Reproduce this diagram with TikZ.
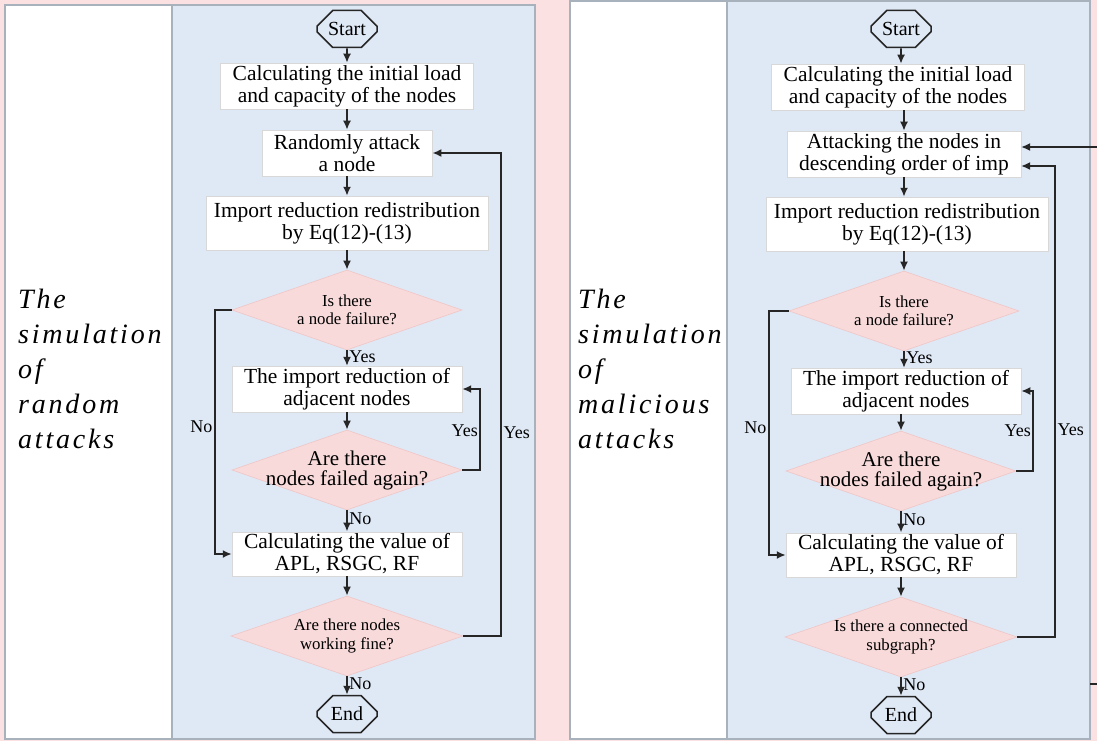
\documentclass[tikz,border=0pt]{standalone}
\usepackage{fontspec}
\setmainfont{Liberation Serif}
\newfontfamily\sidefont[LetterSpace=10]{Liberation Serif}
\usetikzlibrary{arrows.meta, backgrounds, shapes.geometric, shapes.misc}
\definecolor{pagefill}{HTML}{FCE1E2}
\definecolor{flowfill}{HTML}{DFE8F5}
\definecolor{panelborder}{HTML}{A8B2BC}
\definecolor{decfill}{HTML}{F8DADA}
\definecolor{decborder}{HTML}{F0C6C6}
\definecolor{boxborder}{HTML}{D8D8D8}
\definecolor{darkline}{HTML}{262626}
\tikzset{
  panel/.style={rectangle, fill=flowfill, draw=panelborder, line width=1.5pt, inner sep=0pt},
  sidepanel/.style={rectangle, fill=white, draw=panelborder, line width=1.5pt, inner sep=0pt},
  sidetitle/.style={font=\fontsize{28}{35}\sidefont\itshape, align=left, anchor=north west, inner sep=0pt},
  terminal/.style={chamfered rectangle, chamfered rectangle xsep=9pt, chamfered rectangle ysep=9pt, draw=darkline, line width=1.5pt, minimum width=60pt, minimum height=37pt, inner sep=0pt, font=\fontsize{20}{22}\selectfont},
  process/.style={rectangle, fill=white, draw=boxborder, line width=0.5pt, align=center, font=\fontsize{21.5}{22}\selectfont, inner xsep=12pt, inner ysep=2pt, minimum height=46pt},
  decision/.style={diamond, aspect=2.875, fill=decfill, draw=decborder, line width=0.6pt, align=center, inner sep=-8pt, minimum width=230pt, minimum height=80pt, font=\fontsize{16.8}{18.5}\selectfont},
  bigdecision/.style={decision, font=\fontsize{21}{20}\selectfont},
  flow/.style={-{Latex[length=9pt,width=8pt]}, line width=1.8pt, draw=darkline},
  branch/.style={font=\fontsize{18}{20}\selectfont, inner xsep=1.5pt, inner ysep=0pt}
}

\begin{document}
\begin{tikzpicture}[x=1pt, y=-1pt]
\useasboundingbox (0,0) rectangle (1097,741);

\begin{pgfonlayer}{background}
  \fill[pagefill] (0,0) rectangle (1097,741);
  \node[sidepanel, minimum width=167pt, minimum height=734pt] at (88.5, 372) {};
  \node[panel, minimum width=363pt, minimum height=734pt] at (353.5, 372) {};
  \node[sidepanel, minimum width=157pt, minimum height=738pt] at (648.5, 370) {};
  \node[panel, minimum width=363pt, minimum height=738pt] at (908.5, 370) {};
\end{pgfonlayer}

% random attacks
\node[sidetitle] (title1) at (18, 289) {The\\simulation\\of\\random\\attacks};

\node[terminal] (start1) at (347, 29) {Start};
\node[process] (load1) at (347, 86) {Calculating the initial load\\and capacity of the nodes};
\node[process] (attack1) at (347, 153) {Randomly attack\\a node};
\node[process, inner xsep=8pt, minimum height=54pt] (redist1) at (347, 223) {Import reduction redistribution\\by Eq(12)-(13)};
\node[decision] (fail1) at (347, 310) {Is there\\a node failure?};
\node[process, minimum height=43pt] (adjacent1) at (347, 389) {The import reduction of\\adjacent nodes};
\node[bigdecision] (again1) at (347, 470) {Are there\\nodes failed again?};
\node[process, minimum height=44pt] (value1) at (347, 554) {Calculating the value of\\APL, RSGC, RF};
\node[decision, minimum width=232pt] (working1) at (347, 636) {Are there nodes\\working fine?};
\node[terminal] (end1) at (347, 714) {End};

\draw[flow] (start1) -- (load1);
\draw[flow] (load1) -- (attack1);
\draw[flow] (attack1) -- (redist1);
\draw[flow] (redist1) -- (fail1);
\draw[flow] (fail1) -- node[branch, right, pos=0.4] {Yes} (adjacent1);
\draw[flow] (adjacent1) -- (again1);
\draw[flow] (again1) -- node[branch, right, pos=0.4] {No} (value1);
\draw[flow] (value1) -- (working1);
\draw[flow] (working1) -- node[branch, right, pos=0.4] {No} (end1);
\draw[flow] (fail1.west) -- ++(-17,0) |- node[branch, pos=0.24, left] {No} (value1.west);
\draw[flow] (again1.east) -- ++(18,0) |- node[branch, pos=0.24, left] {Yes} (adjacent1.east);
\draw[flow] (working1.east) -- ++(38,0) |- node[branch, pos=0.21, right] {Yes} (attack1.east);

% malicious attacks
\node[sidetitle] (title2) at (578, 289) {The\\simulation\\of\\malicious\\attacks};

\node[terminal] (start2) at (901, 29) {Start};
\node[process] (load2) at (898, 87) {Calculating the initial load\\and capacity of the nodes};
\node[process] (attack2) at (904, 154) {Attacking the nodes in\\descending order of imp};
\node[process, inner xsep=8pt, minimum height=54pt] (redist2) at (907, 224) {Import reduction redistribution\\by Eq(12)-(13)};
\node[decision] (fail2) at (904, 311) {Is there\\a node failure?};
\node[process, minimum height=43pt] (adjacent2) at (906, 391) {The import reduction of\\adjacent nodes};
\node[bigdecision] (again2) at (901, 471) {Are there\\nodes failed again?};
\node[process, minimum height=44pt] (value2) at (901, 555) {Calculating the value of\\APL, RSGC, RF};
\node[decision, minimum width=232pt] (connected2) at (901, 637) {Is there a connected\\subgraph?};
\node[terminal] (end2) at (901, 715) {End};

\coordinate (offedge) at (1097, 147);
\coordinate (stubA) at (1090, 684);
\coordinate (stubB) at (1097, 684);

\draw[flow] (start2) -- (start2 |- load2.north);
\draw[flow] (load2.south -| attack2) -- (attack2);
\draw[flow] (attack2) -- (attack2 |- redist2.north);
\draw[flow] (redist2.south -| fail2) -- (fail2);
\draw[flow] (fail2) -- node[branch, right, pos=0.4] {Yes} (fail2 |- adjacent2.north);
\draw[flow] (adjacent2.south -| again2) -- (again2);
\draw[flow] (again2) -- node[branch, right, pos=0.4] {No} (value2);
\draw[flow] (value2) -- (connected2);
\draw[flow] (connected2) -- node[branch, right, pos=0.4] {No} (end2);
\draw[flow] (fail2.west) -- ++(-20,0) |- node[branch, pos=0.24, left] {No} (value2.west);
\draw[flow] (again2.east) -- ++(17,0) |- node[branch, pos=0.25, left] {Yes} (adjacent2.east);
\draw[flow] (connected2.east) -- ++(38,0) |- node[branch, pos=0.22, right] {Yes} ([yshift=-12pt]attack2.east);
\draw[flow] (offedge) -- (attack2.east |- offedge);
\draw[darkline, line width=1.5pt] (stubA) -- (stubB);

\end{tikzpicture}
\end{document}
